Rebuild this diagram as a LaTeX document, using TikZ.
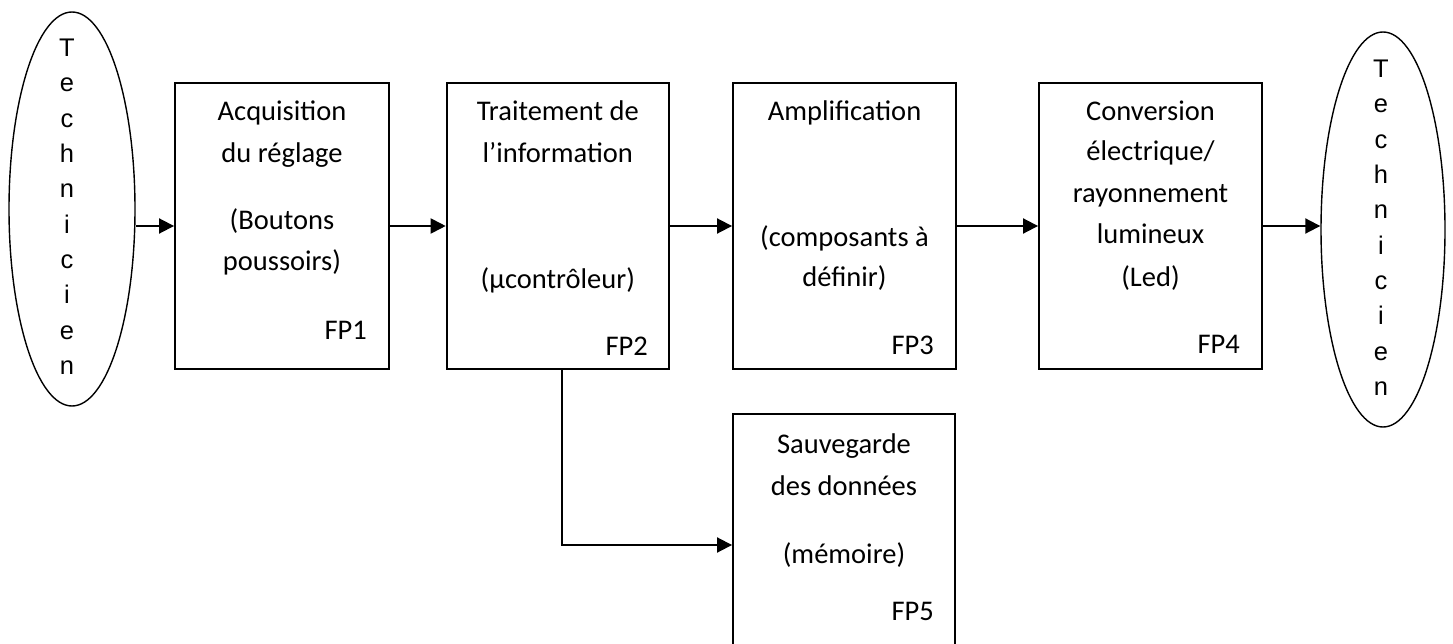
\documentclass[tikz,border=0pt]{standalone}
\usepackage{fontspec}
\setmainfont{Carlito}
\newfontfamily\arialfont{Liberation Sans}
\usetikzlibrary{arrows.meta,shapes.geometric}
\tikzset{
  blk/.style={draw, line width=1.9pt, rectangle, minimum width=#1, minimum height=286pt, inner sep=0pt},
  oval/.style={draw, line width=1.4pt, ellipse, inner sep=0pt},
  arr/.style={line width=1.9pt, -{Triangle[length=15pt,width=15pt]}},
  lbl/.style={anchor=base, inner sep=0pt, font=\fontsize{28.5}{30}\selectfont},
  fp/.style={anchor=base east, inner sep=0pt, font=\fontsize{28.5}{30}\selectfont},
  ltr/.style={anchor=base, inner sep=0pt, font=\arialfont\fontsize{25.5}{27}\selectfont},
}
\begin{document}
\begin{tikzpicture}[x=1pt,y=-1pt]
\clip (0,0) rectangle (1453,644);
\fill[white] (0,0) rectangle (1453,644);
% ellipses
\node[oval, minimum width=126pt, minimum height=394pt] (E1) at (72,209) {};
\node[oval, minimum width=124pt, minimum height=395pt] (E2) at (1383,229.5) {};
\foreach \c [count=\i from 0] in {T,e,c,h,n,i,c,i,e,n}{
  \node[ltr] (L\i) at (67,56.7+35.3*\i) {\c};
  \node[ltr] (R\i) at (1381,77.7+35.3*\i) {\c};
}
% boxes
\node[blk=214pt] (FP1) at (282,226) {};
\node[blk=222.3pt] (FP2) at (557.8,226) {};
\node[blk=223pt] (FP3) at (844.5,226) {};
\node[blk=223pt] (FP4) at (1150.5,226) {};
\node[blk=222pt, minimum height=250pt] (FP5) at (844,539) {};
% FP1 texts
\node[lbl] (t11) at (282,120.7) {Acquisition};
\node[lbl] (t12) at (282,162.7) {du réglage};
\node[lbl] (t13) at (282,230) {(Boutons};
\node[lbl] (t14) at (282,270.7) {poussoirs)};
\node[fp] (f1) at (367,339) {FP1};
% FP2 texts
\node[lbl] (t21) at (557.8,120.7) {Traitement de};
\node[lbl] (t22) at (557.8,162.7) {l’information};
\node[lbl] (t23) at (557.8,288) {(µcontrôleur)};
\node[fp] (f2) at (648,355) {FP2};
% FP3 texts
\node[lbl] (t31) at (844.5,120.7) {Amplification};
\node[lbl] (t32) at (844.5,246.7) {(composants à};
\node[lbl] (t33) at (844.5,286.7) {définir)};
\node[fp] (f3) at (934,354) {FP3};
% FP4 texts
\node[lbl] (t41) at (1150.5,120.7) {Conversion};
\node[lbl] (t42) at (1150.5,160.7) {électrique/};
\node[lbl] (t43) at (1150.5,203) {rayonnement};
\node[lbl] (t44) at (1150.5,244) {lumineux};
\node[lbl] (t45) at (1150.5,286.7) {(Led)};
\node[fp] (f4) at (1240,353) {FP4};
% FP5 texts
\node[lbl] (t51) at (844,453) {Sauvegarde};
\node[lbl] (t52) at (844,495) {des données};
\node[lbl] (t53) at (844,563) {(mémoire)};
\node[fp] (f5) at (934,620) {FP5};
% connectors
\draw[arr] (E1.east |- FP1.west) -- (FP1.west);
\draw[arr] (FP1.east) -- (FP2.west);
\draw[arr] (FP2.east) -- (FP3.west);
\draw[arr] (FP3.east) -- (FP4.west);
\draw[arr] (FP4.east) -- (E2.west |- FP4.east);
\coordinate (bend) at (562,545);
\draw[arr] (bend |- FP2.south) -- (bend) -- (FP5.west |- bend);
\end{tikzpicture}
\end{document}
